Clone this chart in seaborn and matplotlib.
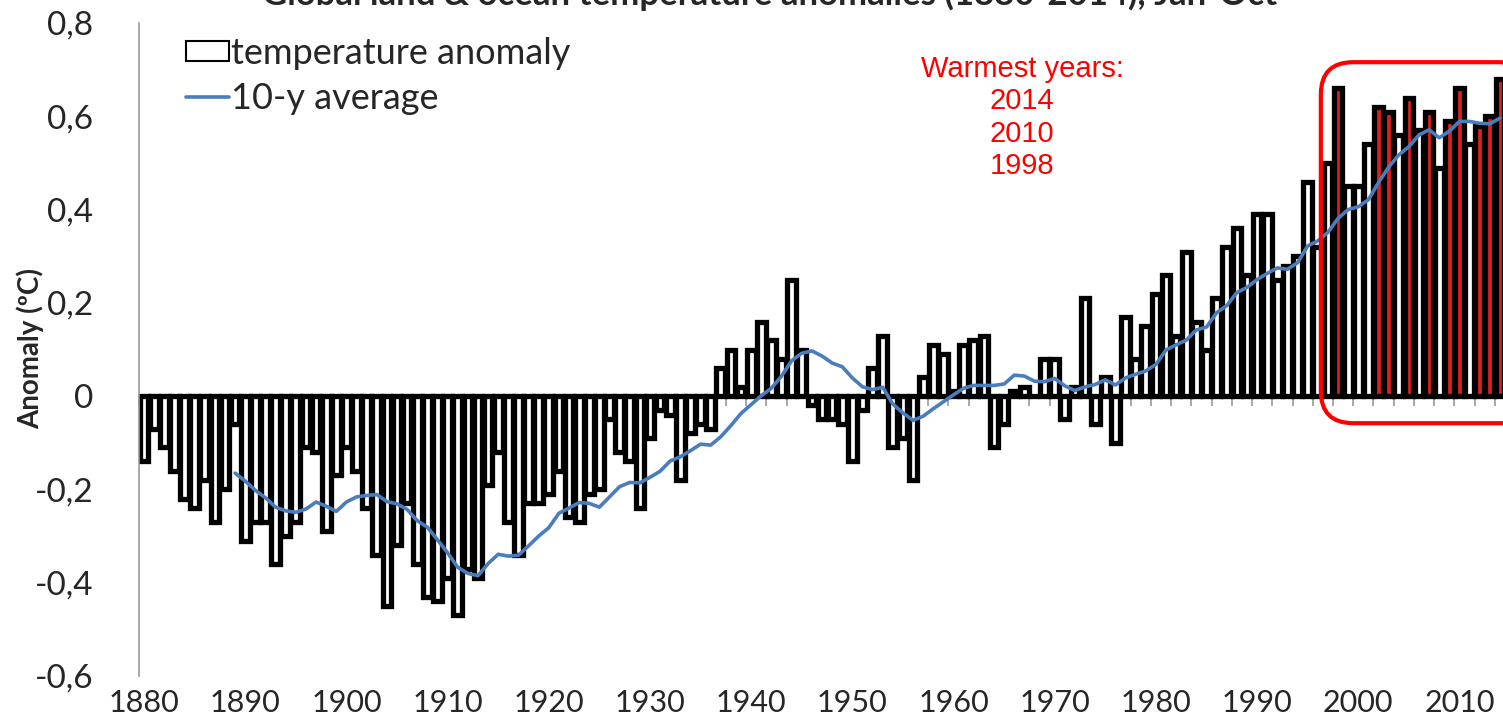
# Anomalias de temperatura global (terra e oceano) 1880-2014, Jan-Out
import numpy as np
import pandas as pd
import matplotlib
matplotlib.use("Agg")
import matplotlib.pyplot as plt
from matplotlib.patches import Patch, FancyBboxPatch
from matplotlib.lines import Line2D
import seaborn as sns

sns.set_style("white")
plt.rcParams["font.family"] = ["Lato", "DejaVu Sans"]

# ===== DADOS =====
years = list(range(1880, 2015))
anomaly = [
    -0.14, -0.07, -0.11, -0.16, -0.22, -0.24, -0.18, -0.27, -0.20, -0.06,  # 1880s
    -0.31, -0.27, -0.27, -0.36, -0.30, -0.27, -0.11, -0.12, -0.29, -0.17,  # 1890s
    -0.11, -0.16, -0.24, -0.34, -0.45, -0.32, -0.23, -0.36, -0.43, -0.44,  # 1900s
    -0.39, -0.47, -0.37, -0.39, -0.19, -0.12, -0.27, -0.34, -0.23, -0.23,  # 1910s
    -0.21, -0.16, -0.26, -0.27, -0.21, -0.20, -0.05, -0.12, -0.14, -0.24,  # 1920s
    -0.09, -0.03, -0.04, -0.18, -0.08, -0.06, -0.07, 0.06, 0.10, 0.02,     # 1930s
    0.10, 0.16, 0.12, 0.08, 0.25, 0.10, -0.02, -0.05, -0.05, -0.06,        # 1940s
    -0.14, -0.03, 0.06, 0.13, -0.11, -0.09, -0.18, 0.04, 0.11, 0.09,       # 1950s
    0.01, 0.11, 0.12, 0.13, -0.11, -0.06, 0.01, 0.02, 0.00, 0.08,          # 1960s
    0.08, -0.05, 0.02, 0.21, -0.06, 0.04, -0.10, 0.17, 0.08, 0.15,         # 1970s
    0.22, 0.26, 0.13, 0.31, 0.16, 0.10, 0.21, 0.32, 0.36, 0.26,            # 1980s
    0.39, 0.39, 0.25, 0.28, 0.30, 0.46, 0.32, 0.50, 0.66, 0.45,            # 1990s
    0.45, 0.54, 0.62, 0.61, 0.56, 0.64, 0.57, 0.61, 0.49, 0.59,            # 2000s
    0.66, 0.54, 0.58, 0.60, 0.68,                                          # 2010s
]
warmest_years = [1998, 2002, 2003, 2005, 2007, 2009, 2010, 2012, 2013, 2014]

# média de 10 anos, 1889-2014
avg_years = list(range(1889, 2015))
avg_10y = [
    -0.165,
    -0.182, -0.202, -0.218, -0.238, -0.246, -0.249, -0.242, -0.227, -0.236, -0.247,
    -0.227, -0.216, -0.213, -0.211, -0.226, -0.231, -0.243, -0.267, -0.281, -0.308,
    -0.336, -0.367, -0.380, -0.385, -0.359, -0.339, -0.343, -0.341, -0.321, -0.300,
    -0.282, -0.251, -0.240, -0.228, -0.230, -0.238, -0.216, -0.194, -0.185, -0.186,
    -0.174, -0.161, -0.139, -0.130, -0.117, -0.103, -0.105, -0.087, -0.063, -0.037,
    -0.018, 0.001, 0.017, 0.043, 0.076, 0.092, 0.097, 0.086, 0.071, 0.063,
    0.039, 0.020, 0.014, 0.019, -0.017, -0.036, -0.052, -0.043, -0.027, -0.012,
    0.003, 0.017, 0.023, 0.023, 0.023, 0.026, 0.045, 0.043, 0.032, 0.031,
    0.038, 0.022, 0.012, 0.020, 0.025, 0.035, 0.024, 0.039, 0.047, 0.054,
    0.068, 0.099, 0.110, 0.120, 0.142, 0.148, 0.179, 0.194, 0.222, 0.233,
    0.250, 0.263, 0.275, 0.272, 0.286, 0.322, 0.333, 0.351, 0.381, 0.400,
    0.406, 0.421, 0.458, 0.491, 0.517, 0.535, 0.560, 0.571, 0.554, 0.568,
    0.589, 0.589, 0.585, 0.584, 0.596,
]

y_ticks = [-0.6, -0.4, -0.2, 0, 0.2, 0.4, 0.6, 0.8]

df = pd.DataFrame({"ano": years, "anomalia": anomaly})
df["grupo"] = np.where(df["ano"].isin(warmest_years), "quente", "normal")

# ===== FIGURA =====
fig = plt.figure(figsize=(15.03, 7.2), dpi=100)
ax = fig.add_axes([139 / 1503, 1 - 676 / 720, 1366 / 1503, 653 / 720])

sns.barplot(data=df, x="ano", y="anomalia", hue="grupo",
            palette={"normal": "white", "quente": "#FF0000"},
            dodge=False, width=0.86, edgecolor="black", linewidth=3.8,
            errorbar=None, legend=False, ax=ax, zorder=2)

# posição da linha no eixo categórico
avg_pos = np.array(avg_years) - years[0]
sns.lineplot(x=avg_pos, y=avg_10y, color="#4A7EBB", linewidth=2.6, ax=ax, zorder=3)

ax.set_xlim(-0.5, len(years) - 0.5)
ax.set_ylim(-0.6, 0.8)

ax.set_yticks(y_ticks)
ax.set_yticklabels([f"{v:.1f}".replace(".", ",") if v != 0 else "0" for v in y_ticks])
ax.tick_params(axis="y", length=0, pad=33, labelsize=24)

ax.set_xticks(range(0, len(years), 10))
ax.set_xticklabels(years[::10])
ax.tick_params(axis="x", length=0, pad=9, labelsize=22)
ax.set_xlabel("")
ax.set_ylabel("Anomaly (ºC)", fontsize=20, fontweight="bold")
ax.yaxis.set_label_coords((44 - 139) / 1366, (676 - 348) / 653)

for s in ["top", "right", "bottom"]:
    ax.spines[s].set_visible(False)
ax.spines["left"].set_color("#999999")
ax.spines["left"].set_linewidth(1.2)

# eixo horizontal em zero com marcas
zero_ax = ax.secondary_xaxis(0, transform=ax.transData)
zero_ax.set_xticks(np.arange(-0.5, len(years), 2))
zero_ax.set_xticklabels([])
zero_ax.tick_params(length=7, color="#999999", width=1.2)
zero_ax.spines["bottom"].set_color("#999999")
zero_ax.spines["bottom"].set_linewidth(1.2)
zero_ax.set_zorder(1)

# legenda
handles = [Patch(facecolor="white", edgecolor="black", linewidth=1.5),
           Line2D([0], [0], color="#4A7EBB", linewidth=2.6)]
ax.legend(handles, ["temperature anomaly", "10-y average"], loc="upper left",
          bbox_to_anchor=(186 / 1503, 1 - 37 / 720), bbox_transform=fig.transFigure,
          frameon=False, fontsize=26, handlelength=1.2, handleheight=0.5,
          handletextpad=0.05, labelspacing=0.33, borderaxespad=0, borderpad=0)

# destaque dos anos mais quentes
box = FancyBboxPatch((116.3, -0.058), 21, 0.774,
                     boxstyle="round,pad=0,rounding_size=3.2",
                     mutation_aspect=(1 / 466.7) / (1 / 10.12),
                     facecolor="none", edgecolor="#FF0000", linewidth=3,
                     transform=ax.transData, clip_on=False, zorder=4)
ax.add_patch(box)

fig.text(1022 / 1503, 1 - 55 / 720, "Warmest years:\n2014\n2010\n1998",
         ha="center", va="top", multialignment="center", color="#FF0000",
         fontsize=21, family=["Liberation Sans", "DejaVu Sans"], linespacing=1.2)

fig.text(770 / 1503, 1 - 5 / 720,
         "Global land & ocean temperature anomalies (1880-2014), Jan-Oct",
         ha="center", va="baseline", fontsize=25, fontweight="bold")

fig.savefig("out.png", dpi=100)
